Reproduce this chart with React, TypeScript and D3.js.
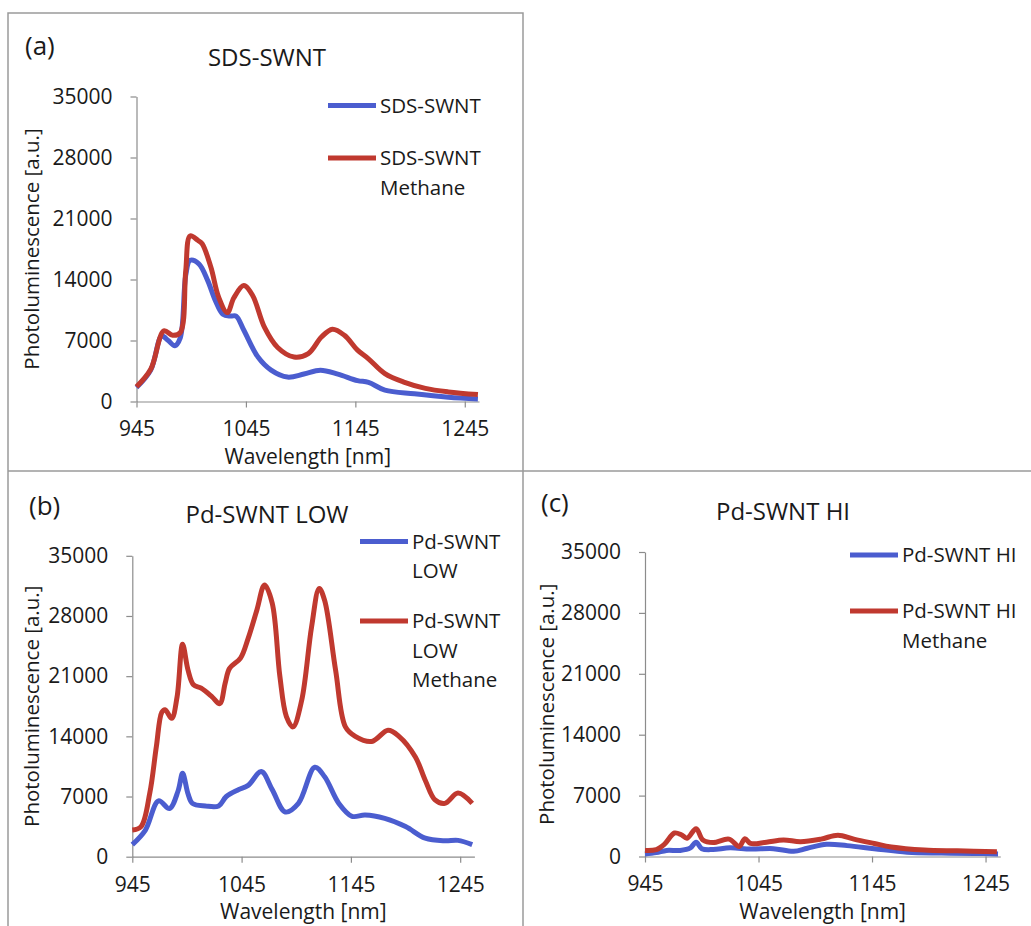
import * as d3 from "d3";
import React, { useRef, useEffect } from "react";

const FONT = "'Open Sans', 'Liberation Sans', sans-serif";
const BLUE = "#4b5dcf";
const RED = "#c0392f";
const TEXT = "#1a1a1a";
const AXIS = "#8c8c8c";

const xTicks = [945, 1045, 1145, 1245];
const yTicks = [0, 7000, 14000, 21000, 28000, 35000];

// [wavelength nm, photoluminescence a.u.]
const sdsSwnt = [
  [945, 1600], [958, 3600], [968, 7500], [974, 7000], [980, 6400], [985, 7300],
  [990, 14500], [994, 16200], [1002, 15800], [1010, 13900], [1017, 11600],
  [1024, 10000], [1031, 9800], [1036, 9800], [1043, 8200], [1056, 5100],
  [1068, 3600], [1083, 2800], [1098, 3150], [1113, 3600], [1129, 3150],
  [1147, 2400], [1157, 2200], [1172, 1300], [1199, 880], [1230, 500], [1257, 300],
];
const sdsSwntMethane = [
  [945, 1700], [958, 3700], [970, 8100], [978, 7600], [985, 7900], [990, 15000],
  [994, 19000], [1001, 18500], [1005, 18100], [1013, 15400], [1020, 12000],
  [1028, 10200], [1034, 11900], [1043, 13300], [1051, 12200], [1062, 8500],
  [1074, 6200], [1089, 5100], [1102, 5500], [1114, 7400], [1124, 8300],
  [1135, 7600], [1147, 5900], [1157, 4900], [1172, 3200], [1190, 2200],
  [1209, 1500], [1230, 1100], [1257, 800],
];
const pdLow = [
  [945, 1400], [957, 3100], [969, 6500], [979, 5600], [987, 7700], [991, 9700],
  [996, 7300], [1000, 6200], [1012, 5900], [1024, 5900], [1031, 7000],
  [1042, 7800], [1051, 8300], [1063, 9900], [1073, 7800], [1085, 5200],
  [1097, 6200], [1112, 10400], [1121, 9300], [1134, 6200], [1146, 4700],
  [1158, 4850], [1176, 4450], [1195, 3500], [1213, 2150], [1231, 1850],
  [1243, 1900], [1256, 1400],
];
const pdLowMethane = [
  [945, 3100], [953, 3500], [961, 7400], [967, 12800], [972, 16800], [975, 17100],
  [981, 16100], [986, 18600], [991, 24700], [996, 21700], [1001, 20000],
  [1008, 19600], [1018, 18600], [1025, 17800], [1030, 20200], [1034, 21900],
  [1044, 23100], [1051, 25400], [1059, 28700], [1066, 31600], [1073, 29500],
  [1080, 21000], [1086, 16300], [1092, 15100], [1100, 18200], [1109, 26700],
  [1116, 31200], [1121, 29800], [1131, 21700], [1140, 15100], [1149, 14000],
  [1164, 13400], [1179, 14700], [1189, 14000], [1204, 11600], [1213, 8900],
  [1222, 6600], [1231, 6200], [1243, 7400], [1256, 6200],
];
const pdHi = [
  [945, 300], [955, 450], [964, 700], [976, 700], [985, 1000], [990, 1650],
  [995, 900], [1005, 800], [1020, 1000], [1038, 850], [1058, 900], [1076, 600],
  [1088, 950], [1105, 1400], [1123, 1250], [1147, 900], [1176, 500],
  [1206, 400], [1235, 350], [1256, 300],
];
const pdHiMethane = [
  [945, 700], [955, 800], [962, 1400], [971, 2700], [977, 2500], [982, 2100],
  [990, 3200], [996, 1900], [1005, 1600], [1019, 2000], [1028, 1150],
  [1033, 2050], [1038, 1500], [1052, 1650], [1067, 1900], [1082, 1700],
  [1100, 2000], [1115, 2450], [1129, 2000], [1147, 1500], [1162, 1100],
  [1191, 750], [1220, 650], [1255, 550],
];

const panelTags = ["(a)", "(b)", "(c)"];
const panelTitles = ["SDS-SWNT", "Pd-SWNT LOW", "Pd-SWNT HI"];
const legendLabels = [
  [["SDS-SWNT"], ["SDS-SWNT", "Methane"]],
  [["Pd-SWNT", "LOW"], ["Pd-SWNT", "LOW", "Methane"]],
  [["Pd-SWNT HI"], ["Pd-SWNT HI", "Methane"]],
];
const panelSeries = [
  [sdsSwnt, sdsSwntMethane],
  [pdLow, pdLowMethane],
  [pdHi, pdHiMethane],
];

// layout of each panel in page pixels
const layout = [
  { left: 136.5, right: 479, top: 96.5, bottom: 401.5, titleX: 267, titleY: 58, tagX: 25, tagY: 46,
    yTitleX: 32, legX: 328, legY: [105.5, 158], legStep: 30 },
  { left: 132.3, right: 474.4, top: 555.8, bottom: 856.7, titleX: 267, titleY: 515, tagX: 29, tagY: 506,
    yTitleX: 32, legX: 360, legY: [541.5, 621], legStep: 29.5 },
  { left: 645, right: 1000.3, top: 552, bottom: 856.5, titleX: 783, titleY: 512, tagX: 541, tagY: 503,
    yTitleX: 547, legX: 850, legY: [555, 611], legStep: 29.5 },
];

const App = () => {
  const ref = useRef<SVGSVGElement>(null);

  useEffect(() => {
    if (!ref.current) return;
    const svg = d3.select(ref.current);
    svg.selectAll("*").remove();

    svg.append("rect").attr("width", 1031).attr("height", 926).attr("fill", "#fff");

    // panel frames
    const frame = svg.append("g").attr("stroke", "#9a9a9a").attr("stroke-width", 1.5).attr("fill", "none");
    frame.append("path").attr("d", "M8,926 V13 H523 V926");
    frame.append("path").attr("d", "M8,471 H1031");

    layout.forEach((p, i) => {
      const x = d3.scaleLinear().domain([945, 1258]).range([p.left, p.right]);
      const y = d3.scaleLinear().domain([0, 35000]).range([p.bottom, p.top]);
      const g = svg.append("g");

      const gx = g
        .append("g")
        .attr("transform", `translate(0,${p.bottom})`)
        .call(d3.axisBottom(x).tickValues(xTicks).tickFormat(d3.format("d")).tickSize(6).tickSizeOuter(0).tickPadding(14));
      const gy = g
        .append("g")
        .attr("transform", `translate(${p.left},0)`)
        .call(d3.axisLeft(y).tickValues(yTicks).tickFormat(d3.format("d")).tickSize(6).tickSizeOuter(0).tickPadding(18));

      [gx, gy].forEach((ax) => {
        ax.attr("font-family", FONT).attr("font-size", 21);
        ax.select(".domain").attr("stroke", AXIS).attr("stroke-width", 1.2);
        ax.selectAll(".tick line").attr("stroke", AXIS).attr("stroke-width", 1.2);
        ax.selectAll(".tick text").attr("fill", TEXT);
      });

      // axis titles
      g.append("text")
        .attr("x", (p.left + p.right) / 2)
        .attr("y", p.bottom + 55)
        .attr("dy", "0.35em")
        .attr("text-anchor", "middle")
        .attr("font-family", FONT)
        .attr("font-size", 21)
        .attr("fill", TEXT)
        .text("Wavelength [nm]");

      g.append("text")
        .attr("transform", `translate(${p.yTitleX},${(p.top + p.bottom) / 2}) rotate(-90)`)
        .attr("dy", "0.35em")
        .attr("text-anchor", "middle")
        .attr("font-family", FONT)
        .attr("font-size", 20.5)
        .attr("fill", TEXT)
        .text("Photoluminescence [a.u.]");

      // title and panel tag
      g.append("text")
        .attr("x", p.titleX)
        .attr("y", p.titleY)
        .attr("dy", "0.35em")
        .attr("text-anchor", "middle")
        .attr("font-family", FONT)
        .attr("font-size", 24)
        .attr("fill", TEXT)
        .text(panelTitles[i]);

      g.append("text")
        .attr("x", p.tagX)
        .attr("y", p.tagY)
        .attr("dy", "0.35em")
        .attr("font-family", FONT)
        .attr("font-size", 26)
        .attr("fill", TEXT)
        .text(panelTags[i]);

      // lines
      const line = d3
        .line<number[]>()
        .x((d) => x(d[0]))
        .y((d) => y(d[1]))
        .curve(d3.curveCatmullRom.alpha(0.5));

      [BLUE, RED].forEach((color, k) => {
        g.append("path")
          .datum(panelSeries[i][k])
          .attr("fill", "none")
          .attr("stroke", color)
          .attr("stroke-width", 5)
          .attr("stroke-linejoin", "round")
          .attr("d", line);
      });

      // legend
      [BLUE, RED].forEach((color, k) => {
        const ly = p.legY[k];
        g.append("line")
          .attr("x1", p.legX)
          .attr("x2", p.legX + 48)
          .attr("y1", ly)
          .attr("y2", ly)
          .attr("stroke", color)
          .attr("stroke-width", 5);
        g.append("text")
          .attr("font-family", FONT)
          .attr("font-size", 20.5)
          .attr("fill", TEXT)
          .selectAll("tspan")
          .data(legendLabels[i][k])
          .enter()
          .append("tspan")
          .attr("x", p.legX + 52)
          .attr("y", (d, j) => ly + j * p.legStep)
          .attr("dy", "0.35em")
          .text((d) => d);
      });
    });
  }, []);

  return <svg ref={ref} width={1031} height={926} style={{ position: "absolute", left: 0, top: 0 }} />;
};

export default App;
